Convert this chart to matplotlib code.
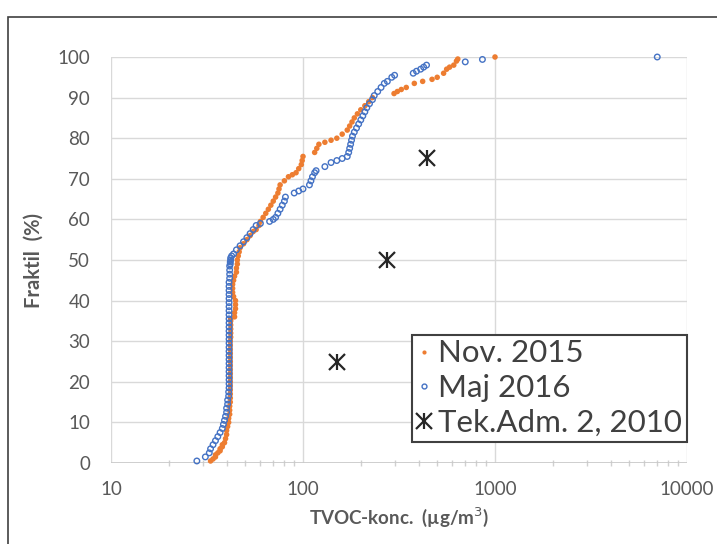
import matplotlib.pyplot as plt
from matplotlib.lines import Line2D
from matplotlib.patches import Rectangle
from matplotlib.ticker import LogLocator, NullFormatter, FixedLocator

plt.rcParams['font.family'] = ['Lato', 'DejaVu Sans']

# Nov. 2015 - TVOC concentration (ug/m3) and fractile (%)
nov_conc = [33, 34, 35, 35, 36, 37, 37, 38, 38, 39, 39.5, 40, 40, 40.5, 41, 41, 41.5, 41.5,
            41.5, 41.8, 41.8, 41.8, 41.8, 41.8, 41.8, 41.8, 41.8, 41.8, 41.8, 41.8, 41.8,
            41.8, 41.8, 41.8, 41.8, 42, 42, 42, 42, 42, 42, 44, 44, 44.5, 44.5, 44.5,
            43.5, 43, 43, 43, 43.5, 44, 45, 45, 45.5, 45.5, 46, 46.5, 47,
            49, 51, 53, 55, 57, 59, 60, 62, 64, 66, 68, 70, 72,
            74, 75, 76, 80, 84, 88, 92, 95, 98, 99, 100, 115, 118, 121, 130, 140, 150,
            160, 170, 175, 180, 185, 192, 200, 210, 220, 230, 298, 310, 325, 345, 380,
            420, 470, 500, 540, 560, 580, 610, 630, 640, 1000]
nov_frac = [0.5, 1, 1.5, 2, 2.5, 3, 3.5, 4, 4.5, 5, 6, 7, 8, 9, 10, 11, 12, 13,
            14, 15, 16, 17, 18, 19, 20, 21, 22, 23, 24, 25, 26,
            27, 28, 29, 30, 31, 32, 33, 34, 35, 35.5, 36, 37, 38, 39, 40,
            41, 42, 43, 44, 45, 46, 47, 48, 49, 50, 51, 52, 53,
            54, 55, 56, 57, 57.5, 58.5, 59.5, 60.5, 61.5, 62.5, 63.5, 64.5, 65.5,
            66.5, 67.5, 68.5, 69.5, 70.5, 71, 71.5, 72.5, 73.5, 74.5, 75.5, 76.5, 77.5, 78.5, 79, 79.5, 80,
            81, 82, 83, 84, 85, 86, 87, 88, 89, 90, 91, 91.5, 92, 92.5, 93.5,
            94, 94.5, 95, 96, 97, 97.5, 98, 99, 99.5, 100]

# Maj 2016
maj_conc = [28, 31, 32.5, 33, 34, 35, 36, 37, 38, 38.5, 39, 39.5, 40, 40, 40.5, 40.5,
            41, 41, 41.2, 41.2, 41.2, 41.2, 41.2, 41.2, 41.2, 41.2, 41.2, 41.2, 41.2,
            41.2, 41.2, 41.2, 41.2, 41.2, 41.2, 41.2, 41.2, 41.2, 41.2, 41.2, 41.2,
            41.2, 41.2, 41.2, 41.2, 41.5, 41.5, 41.5, 41.5, 41.8, 41.8, 42, 42, 42.5,
            43.5, 45, 47, 49, 51, 53, 55, 57, 60, 67, 70, 72, 74, 76, 78, 80, 81, 90,
            95, 100, 108, 110, 112, 115, 117, 130, 140, 150, 160, 170, 173, 175, 177,
            179, 181, 185, 190, 195, 200, 205, 210, 215, 222, 230, 235, 245, 255, 265,
            275, 290, 300, 375, 390, 410, 425, 440, 700, 860, 7000]
maj_frac = [0.5, 1.5, 2.5, 3.5, 4.5, 5.5, 6.5, 7.5, 8.5, 9.5, 10.5, 11.5, 12.5, 13.5, 14.5, 15.5,
            16.5, 17.5, 18.5, 19.5, 20.5, 21.5, 22.5, 23.5, 24.5, 25.5, 26.5, 27.5, 28.5,
            29.5, 30.5, 31.5, 32.5, 33.5, 34.5, 35.5, 36.5, 37.5, 38.5, 39.5, 40.5,
            41.5, 42.5, 43.5, 44.5, 45.5, 46.5, 47.5, 48.5, 49, 49.5, 50, 50.5, 51,
            51.5, 52.5, 53.5, 54.5, 55.5, 56.5, 57.5, 58.5, 59, 59.5, 60, 60.5, 61.5, 62.5, 63.5, 64.5, 65.5, 66.5,
            67, 67.5, 68.5, 69.5, 70.5, 71.5, 72, 73, 74, 74.5, 75, 75.5, 76.5, 77.5, 78.5,
            79.5, 80.5, 81.5, 82.5, 83.5, 84.5, 85.5, 86.5, 87.5, 88.5, 89.5, 90.5, 91.5, 92.5, 93.5,
            94, 95, 95.5, 96, 96.5, 97, 97.5, 98, 98.8, 99.4, 100]

# Tek.Adm. 2, 2010 reference fractiles
tek_conc = [150, 275, 440]
tek_frac = [25, 50, 75]

orange = "#ED7D31"
blue = "#4472C4"
grey = "#595959"
dark = "#262626"

fig = plt.figure(figsize=(7.17, 5.44), dpi=100)
ax = fig.add_axes([111/717, 81/544, 576/717, 406/544])

ax.scatter(nov_conc, nov_frac, s=16, color=orange, edgecolors="none", zorder=3, clip_on=False)
ax.scatter(maj_conc, maj_frac, s=16, facecolors="none", edgecolors=blue, linewidths=1.0,
           zorder=4, clip_on=False)
ax.plot(tek_conc, tek_frac, ls="none", marker="x", ms=12, mew=1.6, color=dark, zorder=5)
ax.plot(tek_conc, tek_frac, ls="none", marker="|", ms=12, mew=1.6, color=dark, zorder=5)

ax.set_xscale("log")
ax.set_xlim(10, 10000)
ax.set_ylim(0, 100)
ax.set_yticks(range(0, 101, 10))
ax.xaxis.set_major_locator(FixedLocator([10, 100, 1000, 10000]))
ax.set_xticklabels(["10", "100", "1000", "10000"])
ax.xaxis.set_minor_locator(LogLocator(base=10, subs=range(2, 10)))
ax.xaxis.set_minor_formatter(NullFormatter())

for s in ax.spines.values():
    s.set_visible(False)
ax.grid(True, which="major", color="#d9d9d9", linewidth=1.0)
ax.axhline(0, color="#c8c8c8", linewidth=1.2, zorder=1)
ax.set_axisbelow(True)

ax.tick_params(axis="y", length=0, pad=15, labelsize=13.5, labelcolor=grey)
ax.tick_params(axis="x", which="major", length=0, pad=13, labelsize=13.5, labelcolor=grey)
ax.tick_params(axis="x", which="minor", direction="inout", length=5, width=1, color="#d0d0d0")

ax.set_ylabel("Fraktil  (%)", fontsize=14.5, fontweight="bold", color=grey, labelpad=10)
ax.set_xlabel("TVOC-konc.  (µg/m$^3$)", fontsize=13.5, fontweight="bold", color=grey, labelpad=5)

h_nov = Line2D([], [], ls="none", marker="o", ms=3, color=orange, mec="none")
h_maj = Line2D([], [], ls="none", marker="o", ms=3.5, mfc="none", mec=blue)
h_x = Line2D([], [], ls="none", marker="x", ms=12, mew=1.6, color=dark)
h_v = Line2D([], [], ls="none", marker="|", ms=12, mew=1.6, color=dark)
leg = ax.legend([h_nov, h_maj, (h_x, h_v)], ["Nov. 2015", "Maj 2016", "Tek.Adm. 2, 2010"],
                loc="lower right", bbox_to_anchor=(1.0, 0.052), fontsize=22.5, frameon=True,
                fancybox=False, edgecolor="#404040", framealpha=1, handlelength=0.45,
                handletextpad=0.25, borderpad=0.15, labelspacing=0.22, borderaxespad=0)
leg.get_frame().set_linewidth(1.5)
for t in leg.get_texts():
    t.set_color("#404040")

# outer frame
fig.add_artist(Rectangle((8/717, -0.1), 1.2, (544 - 17)/544 + 0.1, transform=fig.transFigure,
                         fill=False, edgecolor="#404040", linewidth=1.2))

fig.savefig("out.png", dpi=100)
